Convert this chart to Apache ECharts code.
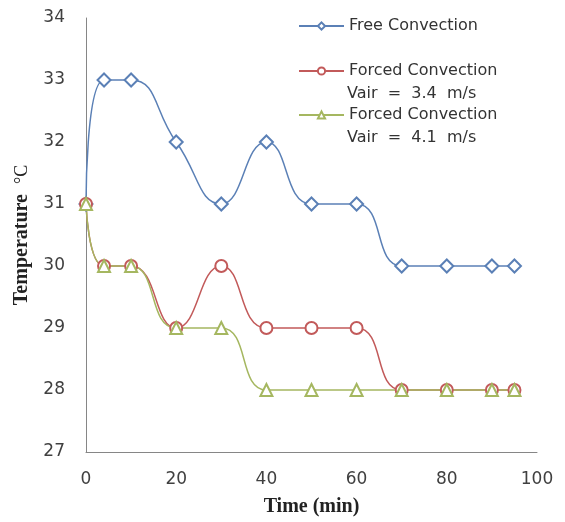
<!DOCTYPE html>
<html lang="en">
<head>
    <meta charset="utf-8">
    <title>Temperature vs Time</title>
    <script src="https://cdn.jsdelivr.net/npm/echarts@6/dist/echarts.min.js"></script>
    <style>
        html, body { margin: 0; padding: 0; background: #fff; }
        #main { width: 565px; height: 522px; }
    </style>
</head>
<body>
    <div id="main"></div>
    <script type="text/javascript">
        // time (min)
        var times = [0, 4, 10, 20, 30, 40, 50, 60, 70, 80, 90, 95];
        // temperature (°C)
        var freeConv = [31, 33, 33, 32, 31, 32, 31, 31, 30, 30, 30, 30];
        var forced34 = [31, 30, 30, 29, 30, 29, 29, 29, 28, 28, 28, 28];
        var forced41 = [31, 30, 30, 29, 29, 28, 28, 28, 28, 28, 28, 28];
        var xTicks = [0, 20, 40, 60, 80, 100];
        var yTicks = [27, 28, 29, 30, 31, 32, 33, 34];

        function pairs(arr) {
            return times.map(function (t, i) { return [t, arr[i]]; });
        }

        var labelFont = { fontFamily: 'DejaVu Sans', fontSize: 17, color: '#404040' };
        var legendText = { fontFamily: 'DejaVu Sans', fontSize: 16, color: '#333', lineHeight: 16 };

        function makeSeries(name, arr, color, symbol, size) {
            return {
                name: name,
                type: 'line',
                data: pairs(arr),
                smooth: 0.5,
                symbol: symbol,
                symbolSize: size,
                lineStyle: { color: color, width: 1.5 },
                itemStyle: { color: color, borderWidth: 1.3 }
            };
        }

        // one legend per entry so the icon sits on the first text line
        function makeLegend(name, top) {
            return {
                data: [name],
                left: 298,
                top: top,
                padding: 0,
                itemWidth: 45,
                itemHeight: 9,
                itemGap: 4,
                selectedMode: false,
                formatter: function (n) { return n.split('|')[0]; },
                textStyle: legendText
            };
        }

        var myChart = echarts.init(document.getElementById('main'));
        var option = {
            backgroundColor: '#fff',
            animation: false,
            grid: { left: 86, right: 28, top: 18, bottom: 70 },
            legend: [
                makeLegend('Free Convection', 18),
                makeLegend('Forced Convection|3.4', 63),
                makeLegend('Forced Convection|4.1', 107)
            ],
            graphic: [
                { type: 'text', left: 347, top: 86, style: { text: 'Vair  =  3.4  m/s', font: '16px "DejaVu Sans"', fill: '#333' } },
                { type: 'text', left: 347, top: 130, style: { text: 'Vair  =  4.1  m/s', font: '16px "DejaVu Sans"', fill: '#333' } }
            ],
            xAxis: {
                type: 'value',
                min: xTicks[0],
                max: xTicks[xTicks.length - 1],
                interval: 20,
                name: 'Time (min)',
                nameLocation: 'middle',
                nameGap: 45,
                nameTextStyle: { fontFamily: 'Liberation Serif', fontWeight: 'bold', fontSize: 20, color: '#222' },
                axisLine: { lineStyle: { color: '#868686', width: 1 } },
                axisTick: { show: false },
                splitLine: { show: false },
                axisLabel: Object.assign({ margin: 19 }, labelFont)
            },
            yAxis: {
                type: 'value',
                min: yTicks[0],
                max: yTicks[yTicks.length - 1],
                interval: 1,
                name: '{t|Temperature}   {u|°C}',
                nameLocation: 'middle',
                nameGap: 54,
                nameTextStyle: {
                    rich: {
                        t: { fontFamily: 'Liberation Serif', fontWeight: 'bold', fontSize: 20, color: '#222' },
                        u: { fontFamily: 'Liberation Serif', fontSize: 18, color: '#222' }
                    }
                },
                axisLine: { show: true, lineStyle: { color: '#868686', width: 1 } },
                axisTick: { show: false },
                splitLine: { show: false },
                axisLabel: Object.assign({ margin: 21 }, labelFont)
            },
            series: [
                makeSeries('Free Convection', freeConv, '#5b80b6', 'emptyDiamond', 13),
                makeSeries('Forced Convection|3.4', forced34, '#c25a5a', 'emptyCircle', 12),
                makeSeries('Forced Convection|4.1', forced41, '#a5b760', 'emptyTriangle', 12)
            ]
        };
        myChart.setOption(option);
    </script>
</body>
</html>
